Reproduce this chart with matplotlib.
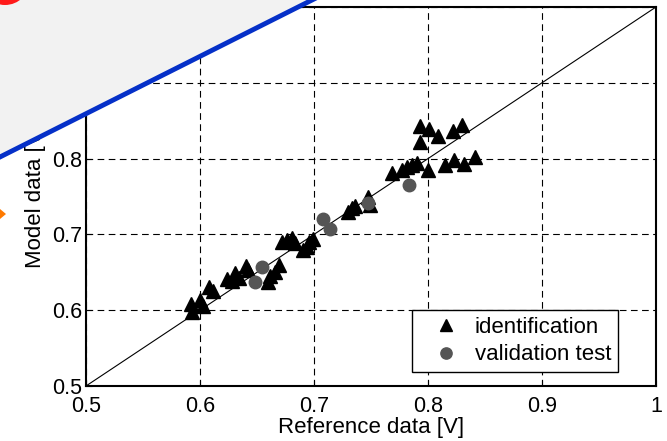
import matplotlib
matplotlib.use('Agg')
import matplotlib.pyplot as plt
import matplotlib.patches as patches
from matplotlib.lines import Line2D

plt.rcParams['font.family'] = ['Liberation Sans', 'DejaVu Sans']

# identification points (reference, model)
ident_x = [0.592, 0.593, 0.600, 0.603, 0.608, 0.611, 0.624, 0.628, 0.631, 0.634,
           0.640, 0.642, 0.660, 0.661, 0.666, 0.669, 0.672, 0.676, 0.681, 0.683,
           0.690, 0.694, 0.696, 0.699, 0.730, 0.733, 0.736, 0.747, 0.749, 0.768,
           0.777, 0.782, 0.786, 0.790, 0.800, 0.793, 0.801, 0.809, 0.793, 0.822,
           0.830, 0.815, 0.823, 0.832, 0.841]
ident_y = [0.608, 0.598, 0.613, 0.606, 0.631, 0.625, 0.641, 0.639, 0.649, 0.642,
           0.658, 0.653, 0.637, 0.645, 0.650, 0.660, 0.690, 0.693, 0.695, 0.689,
           0.679, 0.683, 0.690, 0.694, 0.730, 0.735, 0.737, 0.749, 0.739, 0.781,
           0.785, 0.789, 0.792, 0.794, 0.785, 0.843, 0.839, 0.830, 0.822, 0.836,
           0.844, 0.792, 0.798, 0.793, 0.802]

# validation test points
valid_x = [0.654, 0.648, 0.708, 0.714, 0.747, 0.783]
valid_y = [0.657, 0.637, 0.720, 0.707, 0.741, 0.765]

ticks = [0.5, 0.6, 0.7, 0.8, 0.9, 1.0]
tick_labels = ['0.5', '0.6', '0.7', '0.8', '0.9', '1']

W, H = 667, 441
fig = plt.figure(figsize=(W / 100, H / 100), dpi=100)
ax = fig.add_axes([86 / W, 1 - 386 / H, 570 / W, 379 / H])

ax.plot([0.5, 1.0], [0.5, 1.0], color='black', lw=0.8, zorder=2)
ax.plot(ident_x, ident_y, '^', color='black', ms=10, ls='none',
        label='identification', zorder=3)
ax.plot(valid_x, valid_y, 'o', color='#555555', ms=9, ls='none',
        label='validation test', zorder=4)

ax.set_xlim(0.5, 1.0)
ax.set_ylim(0.5, 1.0)
ax.set_xticks(ticks)
ax.set_xticklabels(tick_labels)
ax.set_yticks(ticks)
ax.set_yticklabels(tick_labels)
ax.tick_params(labelsize=15.5, direction='in', length=4)
ax.tick_params(axis='x', pad=7)
ax.tick_params(axis='y', pad=3)
ax.grid(True, color='black', linestyle=(0, (6, 4)), lw=0.8)
for s in ax.spines.values():
    s.set_linewidth(1.5)

ax.set_xlabel('Reference data [V]', fontsize=16, labelpad=0)
ax.set_ylabel('Model data [V]', fontsize=16, labelpad=4)

leg = ax.legend(loc='lower right', fontsize=16, fancybox=False, framealpha=1,
                edgecolor='black', markerscale=0.9, handlelength=2.4,
                handletextpad=0.1, borderpad=0.3, labelspacing=0.3,
                borderaxespad=0, bbox_to_anchor=(0.933, 0.037))
leg.get_frame().set_linewidth(1.0)


def px(x, y):
    return (x / W, 1 - y / H)

# overlay annotations at top-left corner
grey = patches.Polygon([px(-20, -20), px(330, -20), px(313, 0), px(0, 157), px(-20, 167)],
                       closed=True, facecolor='#f2f2f2', edgecolor='none',
                       transform=fig.transFigure, zorder=10)
fig.add_artist(grey)
blue = Line2D([px(-10, 162)[0], px(320, -4)[0]], [px(-10, 162)[1], px(320, -4)[1]],
              color='#0530c8', lw=3.5, transform=fig.transFigure, zorder=11)
fig.add_artist(blue)
red = patches.Ellipse(px(5, -20), 50 / W, 50 / H, facecolor='#ff1a1a', edgecolor='none',
                      transform=fig.transFigure, zorder=12)
fig.add_artist(red)
orange = patches.Polygon([px(0, 209), px(6, 214), px(0, 219)], closed=True,
                         facecolor='#ff7a00', edgecolor='none',
                         transform=fig.transFigure, zorder=12)
fig.add_artist(orange)

fig.savefig('out.png', dpi=100)
